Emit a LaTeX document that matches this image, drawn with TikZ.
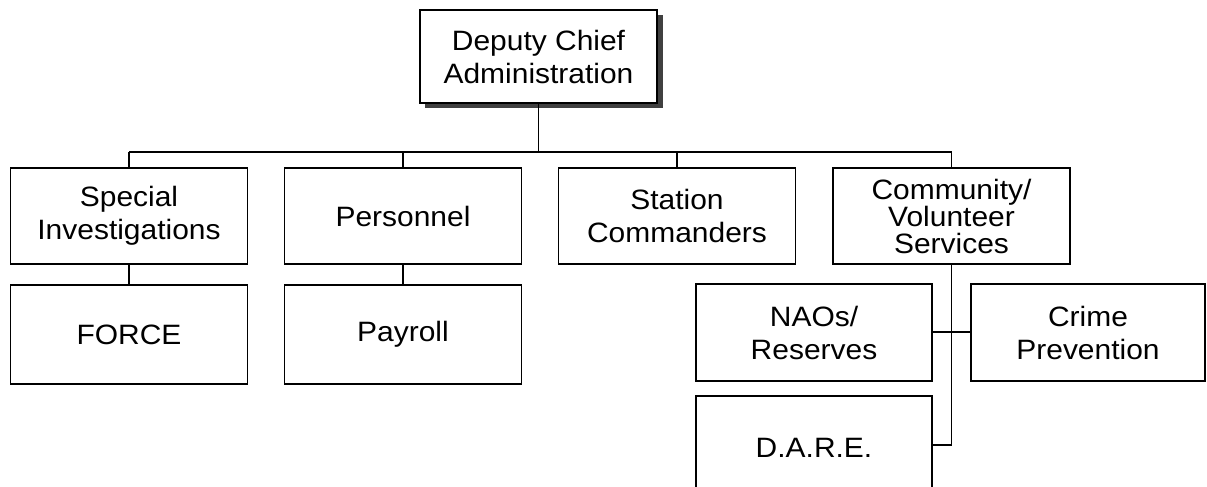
\documentclass[tikz,border=0pt]{standalone}
\usepackage{fontspec}
\setmainfont{Liberation Sans}[FakeStretch=1.07]
\begin{document}
\begin{tikzpicture}[x=1pt,y=-1pt,
  box/.style={draw=black, line width=1.5pt, fill=white, inner sep=0pt,
    minimum width=237pt, align=center,
    font=\fontsize{28}{33}\selectfont},
  link/.style={draw=black, line width=1.5pt}]
\useasboundingbox (0,0) rectangle (1207,487);
% top box with shadow
\fill[black!75] (425,15) rectangle (663,108);
\node[box, minimum height=93pt] (dep) at (538.5,56.5) {Deputy Chief\\Administration};
% second row
\node[box, minimum height=96pt] (si) at (129,216) {Special\\Investigations};
\node[box, minimum height=96pt] (pers) at (403,216) {Personnel};
\node[box, minimum height=96pt] (sc) at (677,216) {Station\\Commanders};
\node[box, minimum height=96pt, font=\fontsize{28}{27}\selectfont] (cv) at (951.5,216) {Community/\\Volunteer\\Services};
% third row
\node[box, minimum height=99pt] (force) at (129,334.5) {FORCE};
\node[box, minimum height=99pt] (pay) at (403,334.5) {Payroll};
\node[box, minimum width=236pt, minimum height=97pt] (nao) at (814,332.5) {NAOs/\\Reserves};
\node[box, minimum width=234pt, minimum height=97pt] (crime) at (1088,332.5) {Crime\\Prevention};
\node[box, minimum width=236pt, minimum height=104pt] (dare) at (814,448) {D.A.R.E.};
% connectors
\coordinate (bus) at (0,152);
\coordinate (cross) at (0,332);
\coordinate (dlink) at (0,445);
\draw[link] (dep.south) -- (dep.south |- bus);
\draw[link] (si.north |- bus) -- (cv.north |- bus);
\foreach \n in {si,pers,sc,cv} \draw[link] (\n.north) -- (\n.north |- bus);
\draw[link] (si.south) -- (force.north);
\draw[link] (pers.south) -- (pay.north);
\draw[link] (cv.south) -- (cv.south |- dlink) -- (dare.east |- dlink);
\draw[link] (nao.east |- cross) -- (crime.west |- cross);
\end{tikzpicture}
\end{document}
